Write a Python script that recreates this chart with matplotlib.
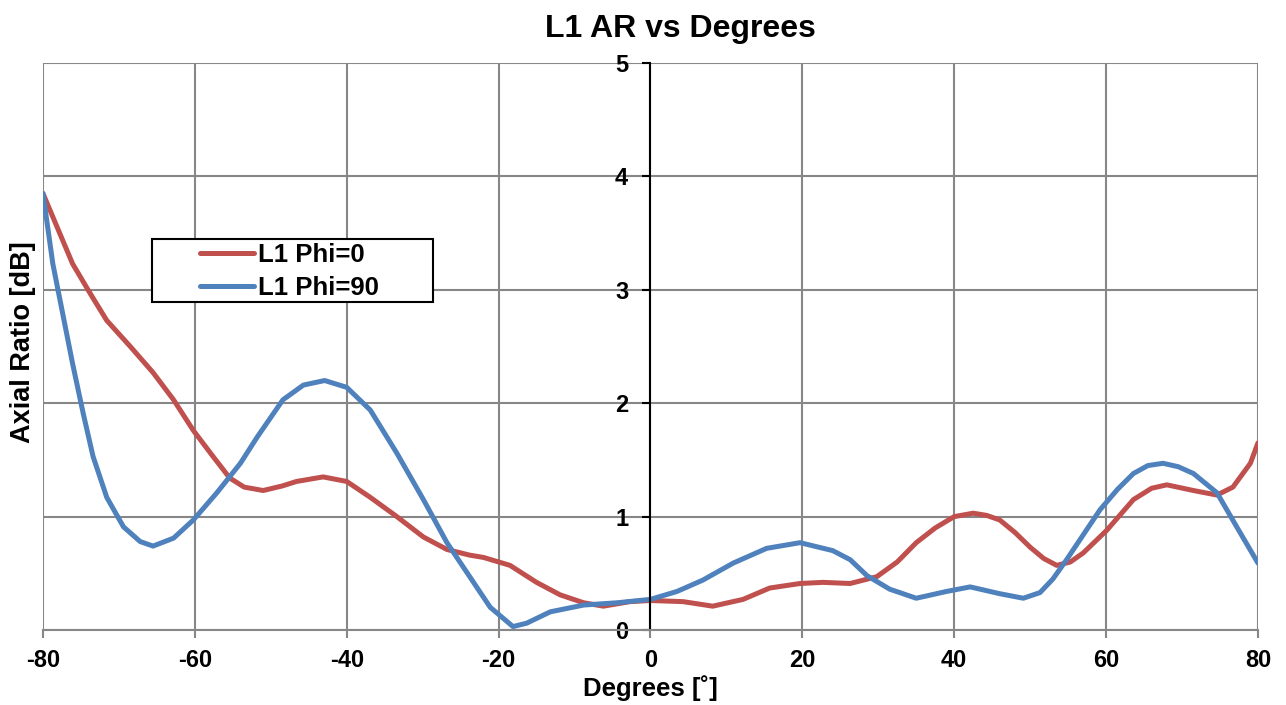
import numpy as np
import matplotlib.pyplot as plt
from matplotlib.patches import Rectangle

plt.rcParams['font.family'] = ['Liberation Sans', 'DejaVu Sans']
plt.rcParams['font.weight'] = 'bold'
plt.rcParams['axes.unicode_minus'] = False

# L1 Phi=0 (red)
deg_phi0 = [-80, -77.8, -76.1, -73.8, -71.6, -68.5, -65.5, -62.8, -60.2, -57.6, -55.4, -53.5, -51, -48.5,
            -46.6, -43.1, -40, -36.9, -33.4, -29.9, -26.8, -23.8, -22, -18.5, -15, -11.9, -8.8, -6.2, -2.7,
            0, 4.3, 8.2, 12.2, 15.7, 19.7, 22.7, 26.3, 29.8, 32.5, 35, 37.5, 40, 42.5, 44.3, 46, 48, 50,
            51.8, 53.5, 55.3, 57, 60.1, 63.6, 66, 68, 71.5, 74.6, 76.7, 79, 80]
ar_phi0 = [3.85, 3.50, 3.23, 2.97, 2.73, 2.50, 2.27, 2.03, 1.76, 1.53, 1.34, 1.26, 1.23, 1.27,
           1.31, 1.35, 1.31, 1.17, 1.00, 0.82, 0.71, 0.66, 0.64, 0.57, 0.42, 0.31, 0.24, 0.21, 0.25,
           0.26, 0.25, 0.21, 0.27, 0.37, 0.41, 0.42, 0.41, 0.47, 0.60, 0.77, 0.90, 1.00, 1.03, 1.01, 0.97, 0.86, 0.73,
           0.63, 0.57, 0.60, 0.68, 0.88, 1.15, 1.25, 1.28, 1.23, 1.19, 1.26, 1.47, 1.65]

# L1 Phi=90 (blue)
deg_phi90 = [-80, -78.7, -77.4, -76.1, -74.7, -73.4, -71.6, -69.4, -67.2, -65.5, -62.8, -60.2, -57.1, -54,
             -51.8, -48.4, -45.7, -42.9, -40, -36.9, -33.4, -29.9, -26.8, -23.8, -21.1, -18.1, -16.3, -13.2,
             -8.8, -4.4, 0, 3.5, 6.9, 10.9, 15.3, 19.7, 24, 26.3, 28.5, 31.5, 35, 39, 42.1, 46, 49.1, 51.3,
             53, 54.8, 57, 59.2, 61.5, 63.6, 65.5, 67.5, 69.5, 71.5, 74.6, 77.2, 80]
ar_phi90 = [3.85, 3.23, 2.79, 2.35, 1.91, 1.53, 1.17, 0.91, 0.78, 0.74, 0.81, 0.97, 1.21, 1.47,
            1.70, 2.03, 2.16, 2.20, 2.14, 1.94, 1.56, 1.15, 0.77, 0.47, 0.20, 0.03, 0.06, 0.16,
            0.22, 0.24, 0.27, 0.34, 0.44, 0.59, 0.72, 0.77, 0.70, 0.62, 0.48, 0.36, 0.28, 0.34, 0.38, 0.32, 0.28, 0.33,
            0.45, 0.62, 0.84, 1.06, 1.24, 1.38, 1.45, 1.47, 1.44, 1.38, 1.21, 0.91, 0.59]

fig = plt.figure(figsize=(12.86, 7.05), dpi=100)
ax = fig.add_axes([0.0334, 0.1064, 0.9448, 0.8042])

ax.plot(deg_phi0, ar_phi0, color='#c0504d', linewidth=3.6, label='L1 Phi=0',
        solid_capstyle='round', solid_joinstyle='round')
ax.plot(deg_phi90, ar_phi90, color='#4f81bd', linewidth=3.6, label='L1 Phi=90',
        solid_capstyle='round', solid_joinstyle='round')

ax.set_xlim(-80, 80)
ax.set_ylim(0, 5)
ax.set_xticks(np.arange(-80, 81, 20))
ax.set_yticks(np.arange(0, 6, 1))
ax.grid(True, color='#878787', linewidth=1.5)
ax.set_axisbelow(True)

# y axis sits at x=0
ax.spines['left'].set_position(('data', 0))
ax.spines['left'].set_color('black')
ax.spines['left'].set_linewidth(1.5)
ax.spines['bottom'].set_color('#878787')
ax.spines['bottom'].set_linewidth(1.5)
ax.spines['top'].set_visible(False)
ax.spines['right'].set_visible(False)

ax.tick_params(axis='y', direction='out', length=6, width=1.5, color='black', labelsize=17, pad=10)
ax.tick_params(axis='x', direction='out', length=6, width=1.5, color='#878787', labelsize=17, pad=8)

fig.text(0.529, 1 - 29 / 705, 'L1 AR vs Degrees', fontsize=23, fontweight='bold',
         ha='center', va='center')
fig.text(0.5054, 1 - 688 / 705, 'Degrees [˚]', fontsize=18.5, fontweight='bold',
         ha='center', va='center')
fig.text(0.018, 0.515, 'Axial Ratio [dB]', rotation=90, fontsize=19.5, fontweight='bold',
         ha='center', va='center')

# legend box drawn like the original (wide padding)
box = Rectangle((152 / 1286, 1 - 302 / 705), 281 / 1286, 63 / 705,
                transform=fig.transFigure, facecolor='white', edgecolor='black',
                linewidth=1.5, zorder=5, clip_on=False)
ax.add_patch(box)
leg = ax.legend(loc='upper left', bbox_to_anchor=(200 / 1286, 1 - 243 / 705),
                bbox_transform=fig.transFigure, fontsize=18.5, frameon=False,
                handlelength=2.1, borderpad=0, labelspacing=0.35, handletextpad=0.15,
                borderaxespad=0)
leg.set_zorder(6)
for t in leg.get_texts():
    t.set_fontweight('bold')

fig.savefig('out.png', dpi=100)
